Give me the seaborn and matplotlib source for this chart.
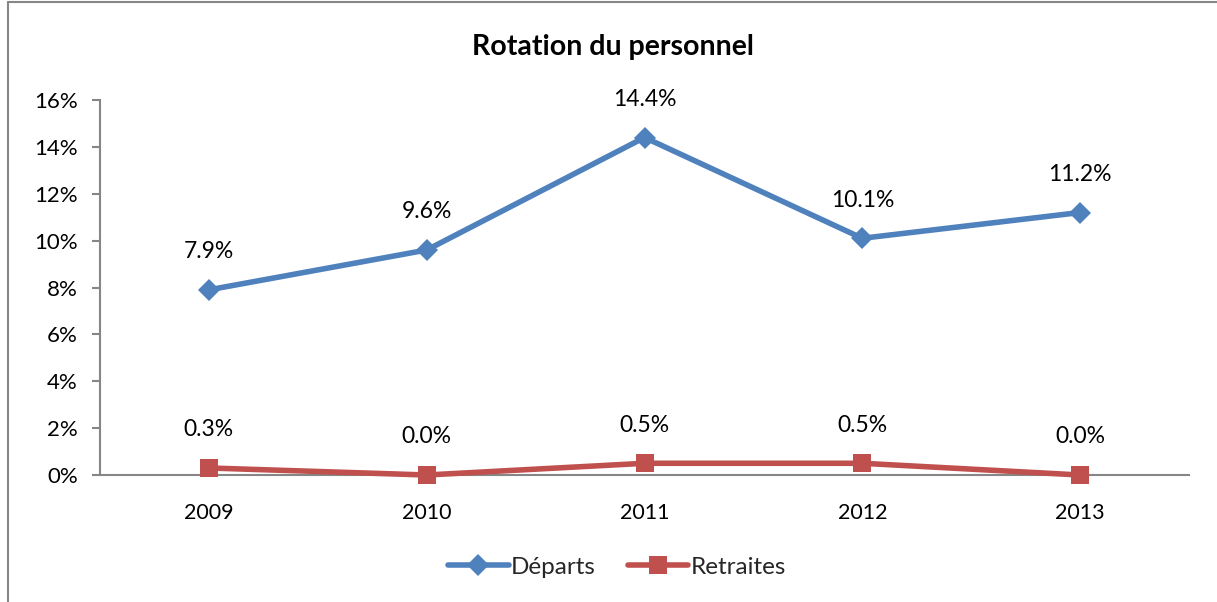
import matplotlib
matplotlib.use("Agg")
import matplotlib.pyplot as plt
import seaborn as sns
import pandas as pd
from matplotlib.lines import Line2D
from matplotlib.ticker import FuncFormatter

years = ["2009", "2010", "2011", "2012", "2013"]
departs = [7.9, 9.6, 14.4, 10.1, 11.2]
retraites = [0.3, 0.0, 0.5, 0.5, 0.0]
series_names = ["Départs", "Retraites"]
colors = ["#4F81BD", "#C0504D"]
markers = ["D", "s"]

sns.set_theme(style="white")
plt.rcParams['font.family'] = ['Lato', 'DejaVu Sans']

df = pd.DataFrame({
    "year": years * 2,
    "value": departs + retraites,
    "series": [series_names[0]] * 5 + [series_names[1]] * 5,
})
df["x"] = list(range(5)) * 2

fig = plt.figure(figsize=(12.17, 6.02), dpi=100)
ax = fig.add_axes([100/1217, 127/602, 1089/1217, 375/602])

msizes = [11, 13]
for name, col, mk, ms in zip(series_names, colors, markers, msizes):
    sub = df[df["series"] == name]
    sns.lineplot(data=sub, x="x", y="value", ax=ax, color=col, linewidth=4,
                 marker=mk, markersize=ms, markeredgewidth=0, legend=False,
                 clip_on=False, zorder=5)
    for xv, yv in zip(sub["x"], sub["value"]):
        ax.annotate(f"{yv:.1f}%", (xv, yv), xytext=(0, 27.5), textcoords="offset points",
                    ha="center", va="center", fontsize=16.5, color="black")

ax.set_xlim(-0.5, 4.5)
ax.set_ylim(0, 16)
ax.set_yticks(range(0, 17, 2))
ax.yaxis.set_major_formatter(FuncFormatter(lambda v, p: f"{int(v)}%"))
ax.set_xticks(range(5))
ax.set_xticklabels(years)
ax.set_xlabel("")
ax.set_ylabel("")
for s in ["top", "right"]:
    ax.spines[s].set_visible(False)
for s in ["left", "bottom"]:
    ax.spines[s].set_color("#868686")
    ax.spines[s].set_linewidth(1.5)
ax.tick_params(axis="y", which="major", left=True, length=6, width=1.5, color="#868686",
               labelsize=16, pad=10, labelcolor="black")
ax.tick_params(axis="x", which="major", bottom=False, labelsize=15.5, pad=14, labelcolor="black")

fig.text(613/1217, 1 - 47/602, "Rotation du personnel", fontsize=20.5, fontweight="bold",
         ha="center", va="center", color="black")

handles = [Line2D([0], [0], color=c, lw=4, marker=m, markersize=ms, markeredgewidth=0)
           for c, m, ms in zip(colors, markers, msizes)]
fig.legend(handles, series_names, loc="center", bbox_to_anchor=(617/1217, 1 - 567/602),
           ncol=2, frameon=False, fontsize=17.5, handlelength=2.5, handletextpad=0.1,
           columnspacing=1.3)

# chart frame (left and top edges visible)
fig.add_artist(Line2D([8/1217, 8/1217], [0, 1 - 2/602], transform=fig.transFigure,
                      color="#868686", lw=1.5))
fig.add_artist(Line2D([8/1217, 1], [1 - 2/602, 1 - 2/602], transform=fig.transFigure,
                      color="#868686", lw=1.5))

fig.savefig("out.png", dpi=100)
